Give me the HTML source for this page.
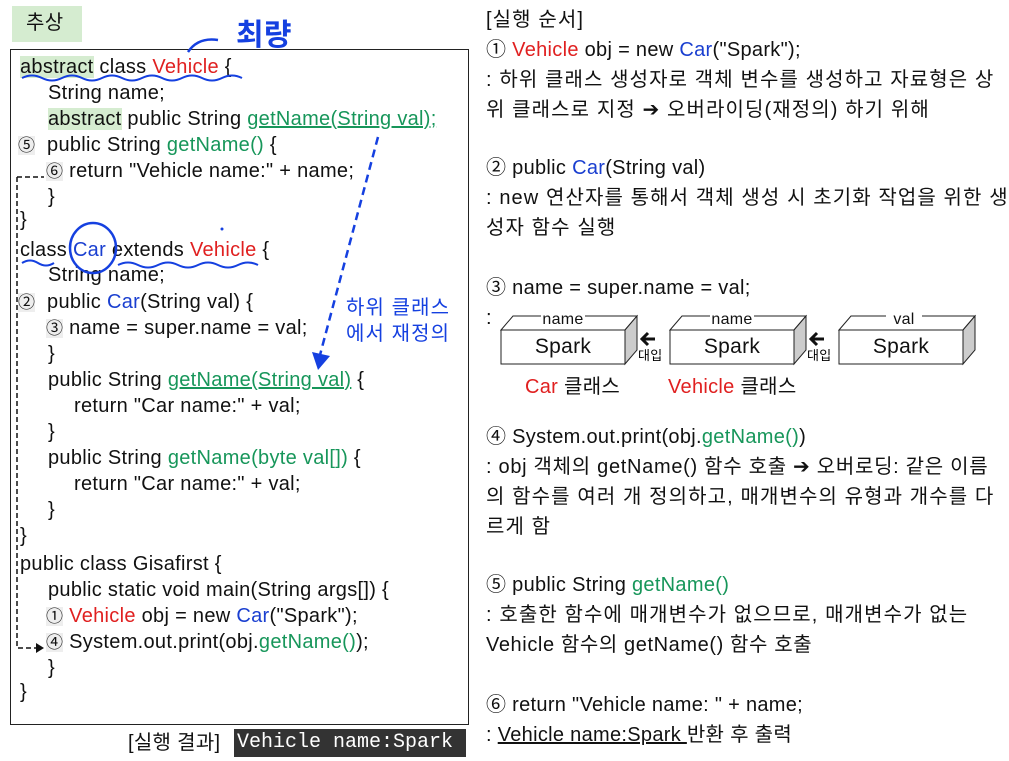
<!DOCTYPE html><html><head><meta charset="utf-8"><style>
body{margin:0;width:1009px;height:761px;background:#fff;position:relative;overflow:hidden;font-family:"Liberation Sans","Noto Sans CJK KR",sans-serif;font-size:20px;letter-spacing:0.3px;color:#111}
.l{position:absolute;white-space:nowrap;line-height:24px;height:24px}
.k{letter-spacing:1.1px}
.r{color:#e02020}.b{color:#1a3fd0}.g{color:#17965a}.hb{color:#1540e0}
.u{text-decoration:underline}
.gb{background:#d5ecd0}
.nb{background:#eeeeee}
.box{position:absolute;border:1px solid #222}
</style></head><body>
<div style="position:absolute;left:12px;top:6px;width:70px;height:36px;background:#d5ecd0"></div>
<div class="l" style="left:26px;top:11px">추상</div>
<div class="box" style="left:10px;top:49px;width:457px;height:674px"></div>

<div class="l" style="left:20px;top:55px"><span class="gb">abstract</span> class <span class="r">Vehicle</span> {</div>
<div class="l" style="left:48px;top:81px">String name;</div>
<div class="l" style="left:48px;top:107px"><span class="gb">abstract</span> public String <span class="g u">getName(String val);</span></div>
<div class="l" style="left:18px;top:133px"><span class="nb" style="font-size:17px">⑤</span>&nbsp;&nbsp;public String <span class="g">getName()</span> {</div>
<div class="l" style="left:46px;top:159px"><span class="nb" style="font-size:17px">⑥</span>&nbsp;return "Vehicle name:" + name;</div>
<div class="l" style="left:48px;top:185px">}</div>
<div class="l" style="left:20px;top:208px">}</div>
<div class="l" style="left:20px;top:238px">class <span class="b">Car</span> extends <span class="r">Vehicle</span> {</div>
<div class="l" style="left:48px;top:263px">String name;</div>
<div class="l" style="left:18px;top:290px"><span class="nb" style="font-size:17px">②</span>&nbsp;&nbsp;public <span class="b">Car</span>(String val) {</div>
<div class="l" style="left:46px;top:316px"><span class="nb" style="font-size:17px">③</span>&nbsp;name = super.name = val;</div>
<div class="l" style="left:48px;top:342px">}</div>
<div class="l" style="left:48px;top:368px">public String <span class="g u">getName(String val)</span> {</div>
<div class="l" style="left:74px;top:394px">return "Car name:" + val;</div>
<div class="l" style="left:48px;top:420px">}</div>
<div class="l" style="left:48px;top:446px">public String <span class="g">getName(byte val[])</span> {</div>
<div class="l" style="left:74px;top:472px">return "Car name:" + val;</div>
<div class="l" style="left:48px;top:498px">}</div>
<div class="l" style="left:20px;top:524px">}</div>
<div class="l" style="left:20px;top:552px">public class Gisafirst {</div>
<div class="l" style="left:48px;top:578px">public static void main(String args[]) {</div>
<div class="l" style="left:46px;top:604px"><span class="nb" style="font-size:17px">①</span>&nbsp;<span class="r">Vehicle</span> obj = new <span class="b">Car</span>("Spark");</div>
<div class="l" style="left:46px;top:630px"><span class="nb" style="font-size:17px">④</span>&nbsp;System.out.print(obj.<span class="g">getName()</span>);</div>
<div class="l" style="left:48px;top:656px">}</div>
<div class="l" style="left:20px;top:680px">}</div>
<div class="l hb k" style="left:346px;top:296px">하위 클래스</div>
<div class="l hb k" style="left:346px;top:322px">에서 재정의</div>

<svg style="position:absolute;left:0;top:0" width="1009" height="761">
<path d="M17 177 H44 M17 177 V648 H38" stroke="#111" stroke-width="1.5" fill="none" stroke-dasharray="5,3"/>
<path d="M36 643 L44 648 L36 653Z" fill="#111"/>
<path d="M378 137 L320 355" stroke="#1540e0" stroke-width="2.5" fill="none" stroke-dasharray="8,5"/>
<path d="M312 352 L318 370 L330 356Z" fill="#1540e0"/>
<path d="M22 78 q10 -5 20 0 t20 0 t20 0 t20 0 t20 0 t20 0 t20 0 t20 0 t20 0 t20 0 t20 0" stroke="#1540e0" stroke-width="2" fill="none"/>
<path d="M22 263 q8 -5 16 0 t16 0 M118 265 q10 -5 20 0 t20 0 t20 0 t20 0 t20 0 t20 0 t20 0" stroke="#1540e0" stroke-width="2" fill="none"/>
<ellipse cx="93" cy="248" rx="23" ry="25" stroke="#1540e0" stroke-width="2.5" fill="none"/>
<path d="M188 52 q10 -15 30 -12" stroke="#1540e0" stroke-width="2.5" fill="none"/>
<text x="236" y="45" fill="#1540e0" font-size="30" font-family="Noto Sans CJK KR,sans-serif" font-weight="bold">최량</text>
<circle cx="222" cy="229" r="1.5" fill="#1540e0"/>
</svg>

<div class="l" style="left:128px;top:731px">[실행 결과]</div>
<div style="position:absolute;left:234px;top:729px;width:229px;height:28px;background:#333;color:#fff;font-family:'Liberation Mono',monospace;font-size:20px;letter-spacing:0;line-height:28px;padding-left:3px">Vehicle name:Spark</div>

<div class="l k" style="left:486px;top:8px">[실행 순서]</div>
<div class="l" style="left:486px;top:38px">① <span class="r">Vehicle</span> obj = new <span class="b">Car</span>("Spark");</div>
<div class="l k" style="left:486px;top:68px">: 하위 클래스 생성자로 객체 변수를 생성하고 자료형은 상</div>
<div class="l k" style="left:486px;top:98px">위 클래스로 지정 ➔ 오버라이딩(재정의) 하기 위해</div>
<div class="l" style="left:486px;top:156px">② public <span class="b">Car</span>(String val)</div>
<div class="l k" style="left:486px;top:186px">: new 연산자를 통해서 객체 생성 시 초기화 작업을 위한 생</div>
<div class="l k" style="left:486px;top:216px">성자 함수 실행</div>
<div class="l" style="left:486px;top:276px">③ name = super.name = val;</div>
<div class="l" style="left:486px;top:306px">:</div>

<svg style="position:absolute;left:495px;top:312px" width="490" height="60">
<g stroke="#222" stroke-width="1" fill="#fff">
<g id="bx"><path d="M6 18 L18 4 H142 L130 18Z"/><path d="M130 18 L142 4 V38 L130 52Z" fill="#ccc"/><rect x="6" y="18" width="124" height="34"/></g>
<use href="#bx" x="169"/><use href="#bx" x="338"/>
</g>
<g fill="#fff"><rect x="46" y="0" width="44" height="12"/><rect x="215" y="0" width="44" height="12"/><rect x="391" y="0" width="36" height="12"/></g>
<g font-size="16" fill="#111" font-family="Liberation Sans,sans-serif" text-anchor="middle">
<text x="68" y="12">name</text><text x="237" y="12">name</text><text x="409" y="12">val</text>
<text x="68" y="41" font-size="21">Spark</text><text x="237" y="41" font-size="21">Spark</text><text x="406" y="41" font-size="21">Spark</text>
</g>
<path d="M160 27 H148 M153 21 L147 27 L153 33 M329 27 H317 M322 21 L316 27 L322 33" stroke="#111" stroke-width="3" fill="none"/>
<text x="143" y="48" font-size="13" font-family="Noto Sans CJK KR,sans-serif">대입</text>
<text x="312" y="48" font-size="13" font-family="Noto Sans CJK KR,sans-serif">대입</text>
</svg>
<div class="l" style="left:525px;top:375px"><span class="r">Car</span> 클래스</div>
<div class="l" style="left:668px;top:375px"><span class="r">Vehicle</span> 클래스</div>

<div class="l" style="left:486px;top:425px">④ System.out.print(obj.<span class="g">getName()</span>)</div>
<div class="l" style="left:486px;top:455px;letter-spacing:0.7px">: obj 객체의 getName() 함수 호출 ➔ 오버로딩: 같은 이름</div>
<div class="l k" style="left:486px;top:485px">의 함수를 여러 개 정의하고, 매개변수의 유형과 개수를 다</div>
<div class="l k" style="left:486px;top:515px">르게 함</div>
<div class="l" style="left:486px;top:573px">⑤ public String <span class="g">getName()</span></div>
<div class="l k" style="left:486px;top:603px">: 호출한 함수에 매개변수가 없으므로, 매개변수가 없는</div>
<div class="l" style="left:486px;top:633px;letter-spacing:0.6px">Vehicle 함수의 getName() 함수 호출</div>
<div class="l" style="left:486px;top:693px">⑥ return "Vehicle name: " + name;</div>
<div class="l" style="left:486px;top:723px">: <span class="u">Vehicle name:Spark </span>반환 후 출력</div>
</body></html>
